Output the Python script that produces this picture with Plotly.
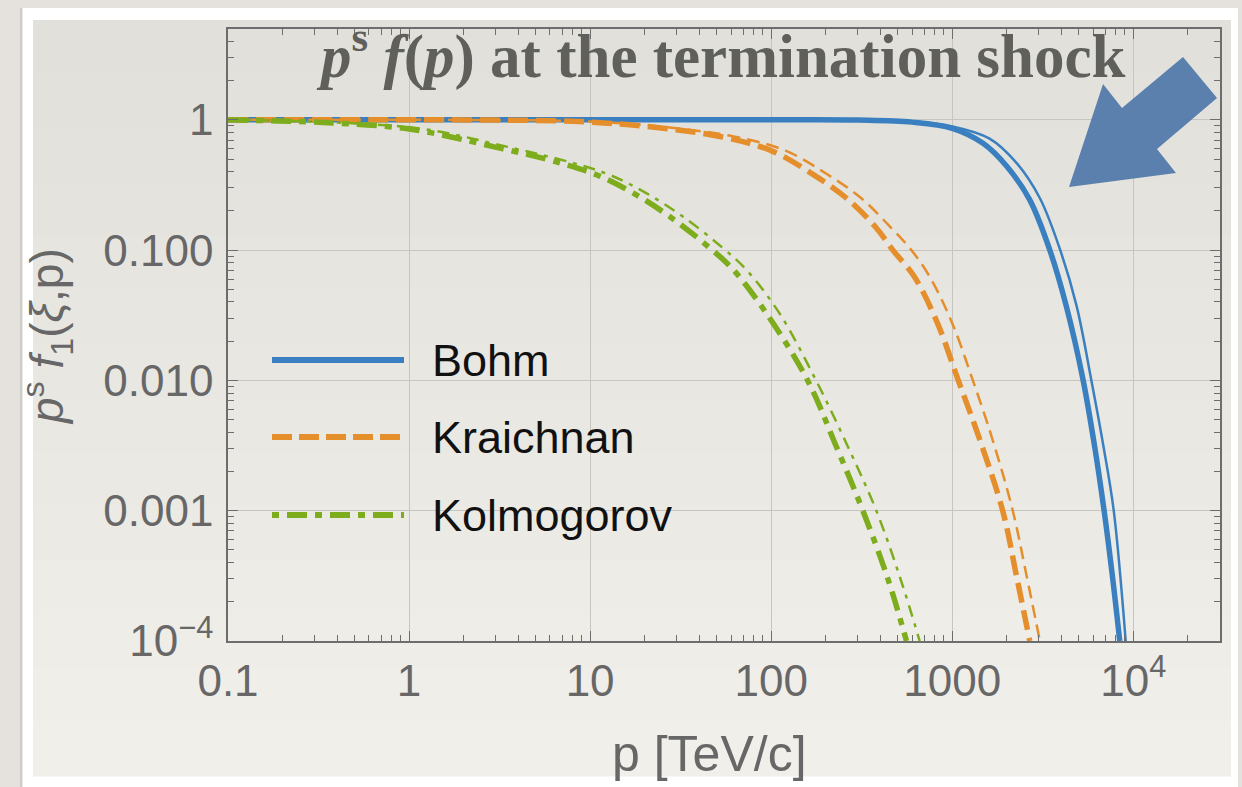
import plotly.graph_objects as go

# ---------------- data ----------------
bohm_p = [0.1, 100, 300, 600, 1000, 1480, 2000, 2680, 3460, 4270, 5280, 6120, 6900, 7680, 8420]
bohm_y = [1, 1, 0.995, 0.96, 0.86, 0.66, 0.44, 0.243, 0.1, 0.037, 0.0101, 0.0031, 0.001, 0.00031, 0.0001]
bohm_thin_p = [0.1, 100, 300, 600, 1000, 1600, 2270, 3050, 3950, 4870, 5870, 6850, 7800, 9080]
bohm_thin_y = [1, 1, 0.997, 0.97, 0.89, 0.72, 0.465, 0.25, 0.1, 0.037, 0.01, 0.0031, 0.001, 0.0001]

kr_p = [0.1, 1, 3, 8.75, 20.4, 52, 100, 171, 261, 381, 470, 617, 829, 1080, 1400, 1900, 2250, 2680]
kr_y = [1, 1, 0.995, 0.97, 0.89, 0.745, 0.58, 0.38, 0.25, 0.148, 0.1, 0.0627, 0.0275, 0.01, 0.00371, 0.001, 0.00033, 0.0001]
kr_thin_p = [0.1, 1, 3, 10, 24, 62, 120, 205, 315, 460, 595, 750, 1000, 1300, 1650, 2160, 2560, 3050]
kr_thin_y = [1, 1, 0.995, 0.97, 0.89, 0.745, 0.58, 0.38, 0.25, 0.148, 0.1, 0.0627, 0.0275, 0.01, 0.00371, 0.001, 0.00033, 0.0001]

ko_p = [0.1, 0.19, 0.355, 1, 2.96, 6.9, 11, 17.3, 27.5, 45.8, 61.6, 94, 159, 229, 321, 443, 559]
ko_y = [1, 0.98, 0.95, 0.85, 0.62, 0.465, 0.375, 0.274, 0.181, 0.104, 0.071, 0.0328, 0.01, 0.00311, 0.001, 0.000295, 0.0001]
ko_thin_p = [0.1, 0.22, 0.42, 1.2, 3.5, 8.1, 13, 20.4, 32.5, 54, 72.7, 111, 177, 265, 381, 520, 661]
ko_thin_y = [1, 0.98, 0.95, 0.85, 0.62, 0.465, 0.375, 0.274, 0.181, 0.104, 0.071, 0.0328, 0.01, 0.00311, 0.001, 0.000295, 0.0001]

legend_names = ["Bohm", "Kraichnan", "Kolmogorov"]
x_tickvals = [0.1, 1, 10, 100, 1000, 10000]
x_ticktext = ["0.1", "1", "10", "100", "1000", "10<sup>4</sup>"]
y_tickvals = [1, 0.1, 0.01, 0.001, 0.0001]
y_ticktext = ["1", "0.100", "0.010", "0.001", "10<sup>−4</sup>"]

# ---------------- styling ----------------
W, H = 1242, 787
L, R, T, B = 228, 1220, 29, 641
PW, PH = R - L, B - T

def px(x):
    return (x - L) / PW

def py(y):
    return (B - y) / PH

BLUE = "#3a80c1"
ORANGE = "#e58e2c"
GREEN = "#7dac1d"
GRAY_TXT = "#676767"

fig = go.Figure()

def add(xs, ys, color, width, dash, name):
    fig.add_trace(go.Scatter(x=xs, y=ys, mode="lines", name=name, showlegend=False,
                             line=dict(color=color, width=width, dash=dash, shape="spline", smoothing=1.0)))

add(bohm_p, bohm_y, BLUE, 5.5, "solid", "Bohm")
add(bohm_thin_p, bohm_thin_y, BLUE, 2.5, "solid", "Bohm (thin)")
add(kr_p, kr_y, ORANGE, 5.5, "20px,8px", "Kraichnan")
add(kr_thin_p, kr_thin_y, ORANGE, 2.5, "13px,7px", "Kraichnan (thin)")
add(ko_p, ko_y, GREEN, 5.5, "20px,8px,7px,8px", "Kolmogorov")
add(ko_thin_p, ko_thin_y, GREEN, 2.5, "12px,7px,4px,7px", "Kolmogorov (thin)")

shapes = []
# white frame
shapes.append(dict(type="rect", xref="paper", yref="paper", layer="below",
                   x0=px(22), x1=px(1238), y0=py(787), y1=py(8),
                   fillcolor="#ffffff", line=dict(width=0)))
shapes.append(dict(type="rect", xref="paper", yref="paper", layer="below",
                   x0=px(20), x1=px(22.5), y0=py(787), y1=py(8),
                   fillcolor="#cfcdc8", line=dict(width=0)))
# inner textured panel approximated by gradient bands
top_c = (226, 224, 219)
bot_c = (241, 239, 234)
nb = 14
y_top, y_bot = 20, 776
for i in range(nb):
    f = i / (nb - 1)
    c = tuple(int(round(top_c[k] + (bot_c[k] - top_c[k]) * f)) for k in range(3))
    ya = y_top + (y_bot - y_top) * i / nb
    yb = y_top + (y_bot - y_top) * (i + 1) / nb
    shapes.append(dict(type="rect", xref="paper", yref="paper", layer="below",
                       x0=px(33), x1=px(1231), y0=py(yb + 0.5), y1=py(ya),
                       fillcolor="rgb(%d,%d,%d)" % c, line=dict(width=0)))

# arrow
arrow_pts = [(1069, 187), (1103, 84), (1122, 108), (1183, 57), (1217, 98), (1157, 149), (1176, 173)]
path = "M " + " L ".join("%.4f,%.4f" % (px(a), py(b)) for a, b in arrow_pts) + " Z"
shapes.append(dict(type="path", xref="paper", yref="paper", layer="above", path=path,
                   fillcolor="rgba(75,118,168,0.9)", line=dict(width=0)))

# legend samples
leg_rows = [360, 437, 515]
leg_styles = [(BLUE, "solid"), (ORANGE, "20px,7px"), (GREEN, "7px,8px,20px,8px")]
for (col, dsh), yy in zip(leg_styles, leg_rows):
    shapes.append(dict(type="line", xref="paper", yref="paper", layer="above",
                       x0=px(272), x1=px(404), y0=py(yy), y1=py(yy),
                       line=dict(color=col, width=6, dash=dsh)))

annotations = []
for name, yy in zip(legend_names, leg_rows):
    annotations.append(dict(xref="paper", yref="paper", x=px(430), y=py(yy), text=name,
                            showarrow=False, xanchor="left", yanchor="middle",
                            font=dict(family="Liberation Sans, Arial", size=45, color="#111111")))

annotations.append(dict(xref="paper", yref="paper", x=px(721), y=py(52),
                        text="<b><i>p</i><sup>s</sup> <i>f</i>(<i>p</i>) at the termination shock</b>",
                        showarrow=False, xanchor="center", yanchor="middle",
                        font=dict(family="Liberation Serif, Times New Roman, serif", size=61, color="#5f5f5b")))
annotations.append(dict(xref="paper", yref="paper", x=px(709), y=py(754),
                        text="p [TeV/c]", showarrow=False, xanchor="center", yanchor="middle",
                        font=dict(family="Liberation Sans, Arial", size=50, color=GRAY_TXT)))
annotations.append(dict(xref="paper", yref="paper", x=px(47), y=py(337), textangle=-90,
                        text="<i>p</i><sup>s</sup> <i>f</i><sub>1</sub>(<i>ξ</i>,p)", showarrow=False,
                        xanchor="center", yanchor="middle",
                        font=dict(family="Liberation Sans, Arial", size=46, color=GRAY_TXT)))

axis_common = dict(
    type="log", showline=True, linecolor="#6d6d6d", linewidth=1.5, mirror="allticks",
    ticks="inside", ticklen=10, tickwidth=1.3, tickcolor="#6d6d6d",
    showgrid=True, gridcolor="#c7c5c0", gridwidth=1, zeroline=False,
    tickfont=dict(family="Liberation Sans, Arial", size=44, color=GRAY_TXT),
    minor=dict(ticks="inside", ticklen=6, tickwidth=1.1, tickcolor="#6d6d6d", dtick="D1", showgrid=False),
)

fig.update_layout(
    width=W, height=H,
    margin=dict(l=L, r=W - R, t=T, b=H - B),
    paper_bgcolor="#e5e2dd",
    plot_bgcolor="rgba(0,0,0,0)",
    showlegend=False,
    shapes=shapes,
    annotations=annotations,
    xaxis=dict(axis_common, range=[-1, 4.479], tickvals=x_tickvals, ticktext=x_ticktext, ticklabelstandoff=0),
    yaxis=dict(axis_common, range=[-4, 0.697], tickvals=y_tickvals, ticktext=y_ticktext, ticklabelstandoff=4),
)

fig.write_html("out.html")
